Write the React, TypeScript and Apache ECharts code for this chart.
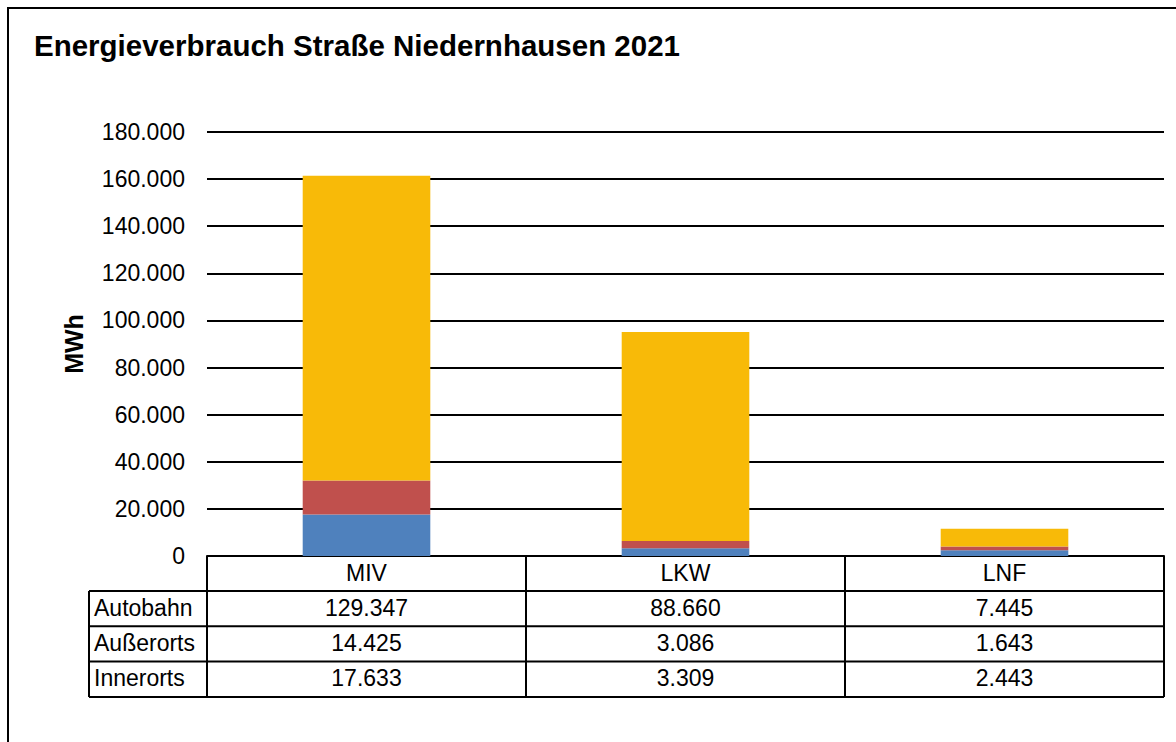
import React, { useEffect, useRef } from "react";
import * as echarts from "echarts";

const titleText = "Energieverbrauch Straße Niedernhausen 2021";
const yAxisName = "MWh";
const categories = ["MIV", "LKW", "LNF"];
const innerorts = [17633, 3309, 2443];
const ausserorts = [14425, 3086, 1643];
const autobahn = [129347, 88660, 7445];
const yMin = 0;
const yMax = 180000;
const yInterval = 20000;

const FONT = "'Liberation Sans', Arial, sans-serif";
const fmt = (v: number) => String(Math.round(v)).replace(/\B(?=(\d{3})+(?!\d))/g, ".");

// layout
const W = 1176;
const H = 742;
const GL = 207;
const GR = 1164;
const GT = 132;
const GB = 556;
const TABLE_LEFT = 89;
const HEADER_BOTTOM = 591;
const ROW_H = 35.3;

export default function App() {
  const ref = useRef<HTMLDivElement>(null);
  useEffect(() => {
    if (!ref.current) return;
    const chart = echarts.init(ref.current, undefined, { renderer: "svg" });
    const rows = [
      { name: "Autobahn", values: autobahn },
      { name: "Außerorts", values: ausserorts },
      { name: "Innerorts", values: innerorts },
    ];
    const colW = (GR - GL) / categories.length;
    const line = (x1: number, y1: number, x2: number, y2: number) => ({
      type: "line",
      shape: { x1, y1, x2, y2 },
      style: { stroke: "#000", lineWidth: 2 },
      silent: true,
    });
    const graphics: any[] = [
      {
        type: "rect",
        shape: { x: 8, y: 8, width: 1200, height: 800 },
        style: { fill: "none", stroke: "#000", lineWidth: 2 },
        silent: true,
      },
    ];
    const tableBottom = HEADER_BOTTOM + ROW_H * rows.length;
    for (let i = 0; i <= rows.length; i++) {
      const y = HEADER_BOTTOM + ROW_H * i;
      graphics.push(line(TABLE_LEFT, y, GR, y));
    }
    graphics.push(line(TABLE_LEFT, HEADER_BOTTOM, TABLE_LEFT, tableBottom));
    for (let c = 0; c <= categories.length; c++) {
      const x = GL + colW * c;
      graphics.push(line(x, GB, x, tableBottom));
    }
    rows.forEach((r, i) => {
      const yc = HEADER_BOTTOM + ROW_H * i + 16.5;
      graphics.push({
        type: "text",
        x: 94,
        y: yc,
        style: {
          text: r.name,
          font: `23px ${FONT}`,
          fill: "#000",
          textAlign: "left",
          textVerticalAlign: "middle",
        },
      });
      r.values.forEach((v, c) => {
        graphics.push({
          type: "text",
          x: GL + colW * (c + 0.5),
          y: yc,
          style: {
            text: fmt(v),
            font: `23px ${FONT}`,
            fill: "#000",
            textAlign: "center",
            textVerticalAlign: "middle",
          },
        });
      });
    });

    chart.setOption({
      animation: false,
      backgroundColor: "#fff",
      title: {
        text: titleText,
        left: 34,
        top: 30,
        padding: 0,
        textStyle: { fontFamily: FONT, fontSize: 29.5, fontWeight: "bold", color: "#000" },
      },
      grid: { left: GL, right: W - GR, top: GT, bottom: H - GB, containLabel: false },
      xAxis: {
        type: "category",
        data: categories,
        axisLine: { show: true, lineStyle: { color: "#000", width: 2 } },
        axisTick: { show: false },
        axisLabel: { color: "#000", fontFamily: FONT, fontSize: 23, margin: 5 },
      },
      yAxis: {
        type: "value",
        min: yMin,
        max: yMax,
        interval: yInterval,
        name: yAxisName,
        nameLocation: "middle",
        nameRotate: 90,
        nameGap: 121,
        nameTextStyle: { fontFamily: FONT, fontSize: 25, fontWeight: "bold", color: "#000" },
        axisLine: { show: false },
        axisTick: { show: false },
        splitLine: { lineStyle: { color: "#000", width: 2 } },
        axisLabel: {
          color: "#000",
          fontFamily: FONT,
          fontSize: 23,
          margin: 22,
          formatter: (v: number) => fmt(v),
        },
      },
      series: [
        { name: "Innerorts", type: "bar", stack: "t", data: innerorts, barWidth: "40%", itemStyle: { color: "#4F81BD" } },
        { name: "Außerorts", type: "bar", stack: "t", data: ausserorts, barWidth: "40%", itemStyle: { color: "#C0504D" } },
        { name: "Autobahn", type: "bar", stack: "t", data: autobahn, barWidth: "40%", itemStyle: { color: "#F8BA08" } },
      ],
      graphic: graphics,
    });
    return () => chart.dispose();
  }, []);
  return <div ref={ref} style={{ position: "fixed", left: 0, top: 0, width: W, height: H }} />;
}
